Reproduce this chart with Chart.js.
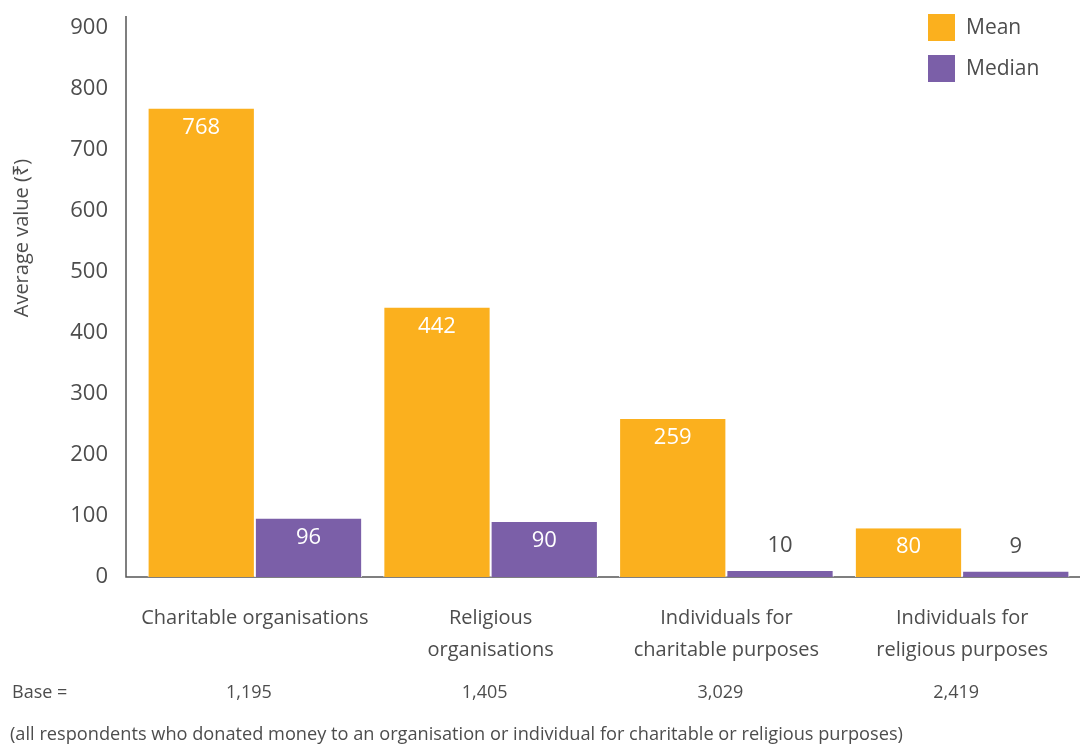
<!DOCTYPE html>
<html lang="en">
<head>
  <meta charset="utf-8">
  <script src="https://cdn.jsdelivr.net/npm/chart.js"></script>
  <style>
    html, body { margin: 0; padding: 0; background: #fff; }
    #wrap { width: 1080px; height: 746px; position: relative; }
  </style>
</head>
<body>
  <div id="wrap"><canvas id="donationChart" width="1080" height="746"></canvas></div>

  <script>
    // data
    const categories = [
      ['Charitable organisations'],
      ['Religious', 'organisations'],
      ['Individuals for', 'charitable purposes'],
      ['Individuals for', 'religious purposes']
    ];
    const meanValues = [768, 442, 259, 80];
    const medianValues = [96, 90, 10, 9];
    const baseCounts = ['1,195', '1,405', '3,029', '2,419'];
    const yTicks = [0, 100, 200, 300, 400, 500, 600, 700, 800, 900];

    const textColor = '#4d4d4d';
    const fontFam = "'Open Sans', 'Noto Sans', sans-serif";

    // axis lines, value labels, legend, base row and footnote
    const extras = {
      id: 'extras',
      beforeDatasetsDraw(chart) {
        const ctx = chart.ctx;
        const a = chart.chartArea;
        ctx.save();
        ctx.strokeStyle = '#555';
        ctx.lineWidth = 1.5;
        ctx.beginPath();
        ctx.moveTo(a.left - 11, 16);
        ctx.lineTo(a.left - 11, a.bottom);
        ctx.lineTo(a.right, a.bottom);
        ctx.stroke();
        ctx.restore();
      },
      afterDraw(chart) {
        const ctx = chart.ctx;
        ctx.save();

        // value labels
        ctx.font = '22px ' + fontFam;
        ctx.textAlign = 'center';
        ctx.textBaseline = 'middle';
        chart.data.datasets.forEach((ds, di) => {
          chart.getDatasetMeta(di).data.forEach((bar, i) => {
            const h = bar.base - bar.y;
            if (h > 40) {
              ctx.fillStyle = '#fff';
              ctx.fillText(ds.data[i], bar.x, bar.y + 19);
            } else {
              ctx.fillStyle = textColor;
              ctx.fillText(ds.data[i], bar.x, bar.y - 25);
            }
          });
        });

        // legend
        ctx.textAlign = 'left';
        chart.data.datasets.forEach((ds, di) => {
          const y = 14 + di * 41;
          ctx.fillStyle = ds.backgroundColor;
          ctx.fillRect(928, y, 27, 27);
          ctx.fillStyle = textColor;
          ctx.font = '21px ' + fontFam;
          ctx.fillText(ds.label, 966, y + 14);
        });

        // y axis title
        ctx.save();
        ctx.translate(22, 238);
        ctx.rotate(-Math.PI / 2);
        ctx.textAlign = 'center';
        ctx.font = '20px ' + fontFam;
        ctx.fillStyle = textColor;
        ctx.fillText('Average value (\u20B9)', 0, 0);
        ctx.restore();

        // base row
        ctx.font = '18px ' + fontFam;
        ctx.fillStyle = textColor;
        ctx.textAlign = 'left';
        ctx.fillText('Base =', 12, 693);
        ctx.textAlign = 'center';
        const xs = chart.scales.x;
        baseCounts.forEach((b, i) => {
          ctx.fillText(b, xs.getPixelForValue(i) - 6, 693);
        });

        // footnote
        ctx.textAlign = 'left';
        ctx.font = '18.2px ' + fontFam;
        ctx.fillText('(all respondents who donated money to an organisation or individual for charitable or religious purposes)', 10, 735);
        ctx.restore();
      }
    };

    new Chart(document.getElementById('donationChart'), {
      type: 'bar',
      data: {
        labels: categories,
        datasets: [
          {
            label: 'Mean',
            data: meanValues,
            backgroundColor: '#fbb01e',
            borderColor: '#fff',
            borderWidth: { top: 0, bottom: 0, left: 1, right: 1 },
            borderSkipped: false,
            categoryPercentage: 0.91,
            barPercentage: 1
          },
          {
            label: 'Median',
            data: medianValues,
            backgroundColor: '#7b5fa8',
            borderColor: '#fff',
            borderWidth: { top: 0, bottom: 0, left: 1, right: 1 },
            borderSkipped: false,
            categoryPercentage: 0.91,
            barPercentage: 1
          }
        ]
      },
      options: {
        responsive: false,
        animation: false,
        layout: { padding: { top: 28, right: 0, bottom: 0, left: 0 } },
        plugins: {
          legend: { display: false },
          tooltip: { enabled: false }
        },
        scales: {
          x: {
            grid: { display: false, drawTicks: false },
            border: { display: false },
            ticks: {
              color: textColor,
              font: { family: fontFam, size: 20, lineHeight: 1.6 },
              padding: 25,
              maxRotation: 0,
              autoSkip: false
            },
            afterFit(scale) { scale.height = 169; }
          },
          y: {
            min: 0,
            max: 900,
            grid: { display: false, drawTicks: false },
            border: { display: false },
            afterBuildTicks(scale) { scale.ticks = yTicks.map(v => ({ value: v })); },
            ticks: {
              color: textColor,
              font: { family: fontFam, size: 22 },
              padding: 29
            },
            afterFit(scale) {
              scale.width = 137;
              scale.paddingTop = 0;
              scale.paddingBottom = 0;
            }
          }
        }
      },
      plugins: [extras]
    });
  </script>
</body>
</html>
